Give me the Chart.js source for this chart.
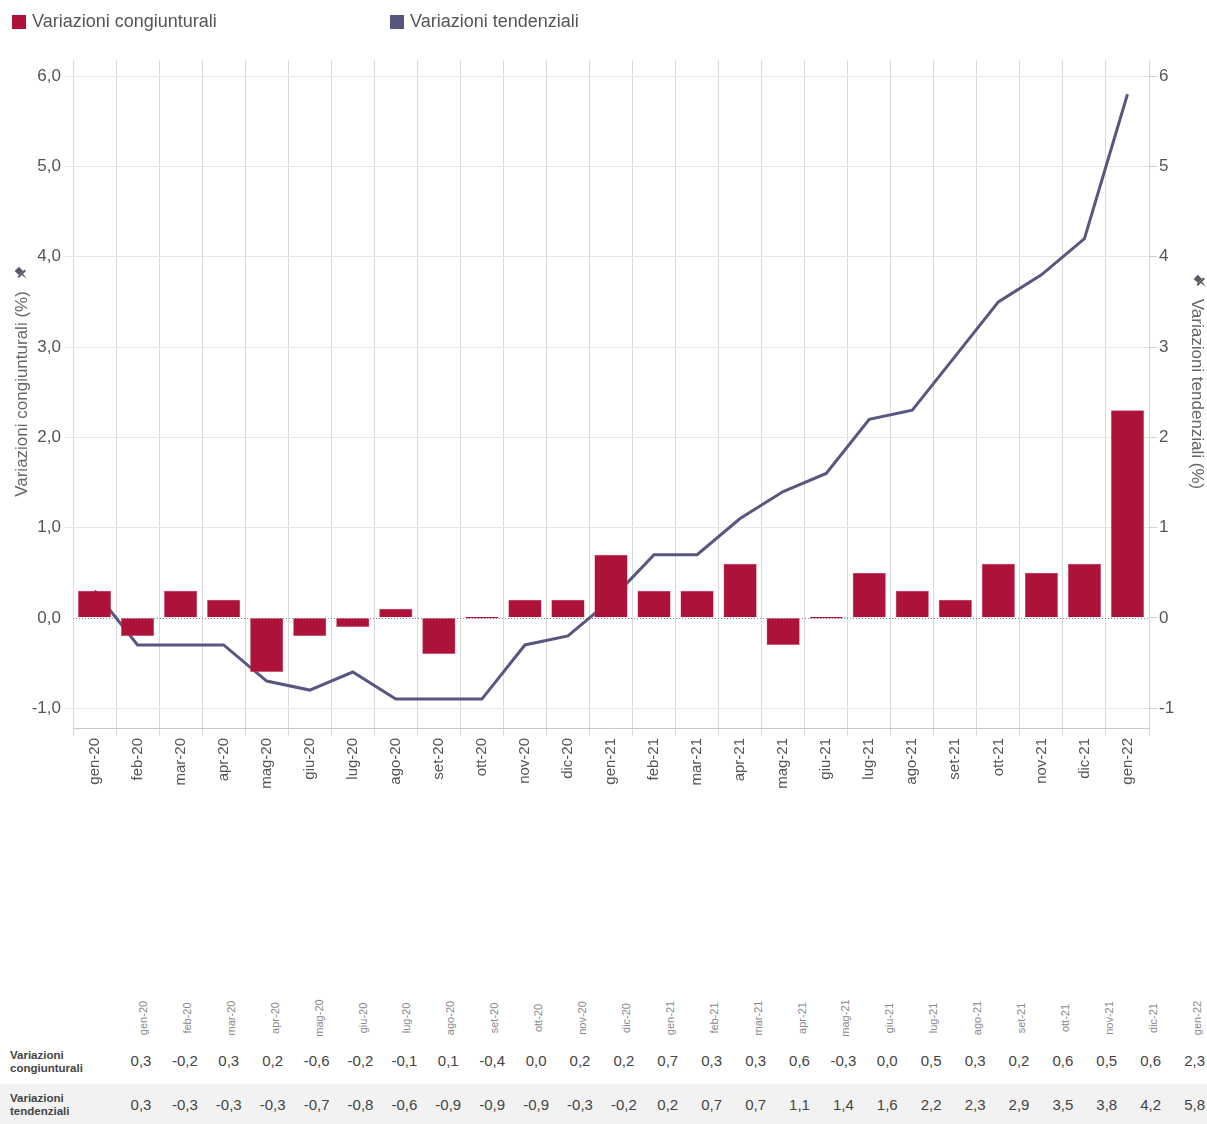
<!DOCTYPE html>
<html lang="it">
<head>
    <meta charset="UTF-8">
    <title>Variazioni congiunturali e tendenziali</title>
    <script src="https://cdn.jsdelivr.net/npm/chart.js"></script>
    <style>
        body { margin: 0; background: #fff; font-family: "Liberation Sans", Arial, sans-serif; }
        #wrap { position: relative; width: 1207px; height: 1124px; overflow: hidden; }
        #chart { position: absolute; left: 0; top: 0; }
        .legend { position: absolute; top: 11px; font-size: 18px; color: #555; display: flex; align-items: center; }
        .legend span.box { display: inline-block; width: 14px; height: 14px; margin-right: 6px; }
        #table { position: absolute; left: 0; top: 995px; width: 1207px; }
        .row { position: relative; height: 44px; }
        .head { height: 48px; }
        .cell { position: absolute; width: 44px; text-align: center; }
        .hlab { position: absolute; font-size: 11px; color: #8a8a8a; white-space: nowrap;
                transform: rotate(-90deg); transform-origin: center center; }
        .val { font-size: 15px; color: #444; }
        .rlab { position: absolute; left: 10px; font-size: 11.5px; font-weight: bold; color: #444; line-height: 13px; }
    </style>
</head>
<body>
<div id="wrap">
    <canvas id="chart" width="1207" height="800"></canvas>
    <div class="legend" style="left:12px"><span class="box" style="background:#ad1238"></span>Variazioni congiunturali</div>
    <div class="legend" style="left:390px"><span class="box" style="background:#55557f"></span>Variazioni tendenziali</div>
    <div id="table"></div>
</div>
<script>
    const months = ['gen-20', 'feb-20', 'mar-20', 'apr-20', 'mag-20', 'giu-20', 'lug-20', 'ago-20', 'set-20', 'ott-20', 'nov-20', 'dic-20',
        'gen-21', 'feb-21', 'mar-21', 'apr-21', 'mag-21', 'giu-21', 'lug-21', 'ago-21', 'set-21', 'ott-21', 'nov-21', 'dic-21', 'gen-22'];
    const congiunturali = [0.3, -0.2, 0.3, 0.2, -0.6, -0.2, -0.1, 0.1, -0.4, 0.0, 0.2, 0.2,
        0.7, 0.3, 0.3, 0.6, -0.3, 0.0, 0.5, 0.3, 0.2, 0.6, 0.5, 0.6, 2.3];
    const tendenziali = [0.3, -0.3, -0.3, -0.3, -0.7, -0.8, -0.6, -0.9, -0.9, -0.9, -0.3, -0.2,
        0.2, 0.7, 0.7, 1.1, 1.4, 1.6, 2.2, 2.3, 2.9, 3.5, 3.8, 4.2, 5.8];
    const yTicks = [-1, 0, 1, 2, 3, 4, 5, 6];
    const rowNames = [['Variazioni', 'congiunturali'], ['Variazioni', 'tendenziali']];

    const fmt = v => v.toFixed(1).replace('.', ',');
    const setTicks = scale => { scale.ticks = yTicks.map(v => ({ value: v })); };

    // dotted zero line + little pin icons next to the axis titles
    const extras = {
        id: 'extras',
        beforeDatasetsDraw(chart) {
            const y = chart.scales.y.getPixelForValue(0);
            const ctx = chart.ctx;
            ctx.save();
            ctx.strokeStyle = '#888';
            ctx.lineWidth = 1;
            ctx.setLineDash([1, 2]);
            ctx.beginPath();
            ctx.moveTo(chart.chartArea.left, Math.round(y) + 0.5);
            ctx.lineTo(chart.chartArea.right, Math.round(y) + 0.5);
            ctx.stroke();
            ctx.restore();
        },
        afterDraw(chart) {
            const ctx = chart.ctx;
            const pin = (x, y) => {
                ctx.save();
                ctx.translate(x, y);
                ctx.rotate(-Math.PI / 4);
                ctx.fillStyle = '#555a66';
                ctx.fillRect(-3, -6, 6, 6);
                ctx.fillRect(-5, 0, 10, 2);
                ctx.beginPath();
                ctx.moveTo(-1, 2); ctx.lineTo(1, 2); ctx.lineTo(0, 8); ctx.closePath();
                ctx.fill();
                ctx.restore();
            };
            pin(21, 273);
            pin(1200, 281);
        }
    };

    new Chart(document.getElementById('chart'), {
        type: 'bar',
        data: {
            labels: months,
            datasets: [{
                label: 'Variazioni congiunturali',
                data: congiunturali,
                backgroundColor: '#ad1238',
                borderColor: '#c85070',
                borderWidth: 0.5,
                barPercentage: 0.77,
                categoryPercentage: 1,
                minBarLength: 1.5,
                yAxisID: 'y',
                order: 1
            }, {
                type: 'line',
                label: 'Variazioni tendenziali',
                data: tendenziali,
                borderColor: '#58577f',
                borderWidth: 3,
                pointRadius: 0,
                tension: 0,
                yAxisID: 'y1',
                order: 2
            }]
        },
        options: {
            responsive: false,
            animation: false,
            devicePixelRatio: 1,
            layout: { padding: { top: 60 } },
            plugins: { legend: { display: false }, tooltip: { enabled: false } },
            scales: {
                x: {
                    offset: true,
                    grid: { color: '#d9d9d9', offset: true, tickLength: 8 },
                    border: { color: '#c8c8c8' },
                    ticks: {
                        color: '#555', font: { size: 15, family: 'Liberation Sans' },
                        minRotation: 90, maxRotation: 90, autoSkip: false, padding: 2
                    },
                    afterFit: s => { s.height = 72; }
                },
                y: {
                    position: 'left',
                    min: -1.22, max: 6.18,
                    ticks: { color: '#555', font: { size: 17, family: 'Liberation Sans' }, callback: v => fmt(v), padding: 4 },
                    grid: { color: c => c.tick && c.tick.value === 0 ? 'rgba(0,0,0,0)' : '#e6e6e6', tickLength: 8 },
                    border: { display: false },
                    title: { display: true, text: 'Variazioni congiunturali (%)', color: '#666', font: { size: 17, family: 'Liberation Sans' }, padding: { top: 12, bottom: 0 } },
                    afterBuildTicks: setTicks,
                    afterFit: s => { s.width = 73; }
                },
                y1: {
                    position: 'right',
                    min: -1.22, max: 6.18,
                    ticks: { color: '#555', font: { size: 17, family: 'Liberation Sans' }, padding: 2 },
                    grid: { drawOnChartArea: false, color: '#d0d0d0', tickLength: 8 },
                    border: { display: false },
                    title: { display: true, text: 'Variazioni tendenziali (%)', color: '#666', font: { size: 17, family: 'Liberation Sans' }, padding: 0 },
                    afterBuildTicks: setTicks,
                    afterFit: s => { s.width = 58; }
                }
            }
        },
        plugins: [extras]
    });

    // data table below the chart
    const table = document.getElementById('table');
    const colX = i => 119 + i * 43.9;
    const head = document.createElement('div');
    head.className = 'row head';
    months.forEach((m, i) => {
        const d = document.createElement('div');
        d.className = 'hlab';
        d.textContent = m;
        d.style.left = (colX(i) + 2) + 'px';
        d.style.top = '17px';
        d.style.width = '44px';
        d.style.textAlign = 'center';
        head.appendChild(d);
    });
    table.appendChild(head);
    [congiunturali, tendenziali].forEach((vals, r) => {
        const row = document.createElement('div');
        row.className = 'row';
        if (r === 1) row.style.background = '#f2f2f2';
        row.style.height = r === 0 ? '41px' : '40px';
        const lab = document.createElement('div');
        lab.className = 'rlab';
        lab.style.top = r === 0 ? '6px' : '8px';
        lab.innerHTML = rowNames[r].join('<br>');
        row.appendChild(lab);
        vals.forEach((v, i) => {
            const c = document.createElement('div');
            c.className = 'cell val';
            c.style.left = colX(i) + 'px';
            c.style.top = r === 0 ? '9px' : '12px';
            c.textContent = fmt(v);
            row.appendChild(c);
        });
        table.appendChild(row);
    });
</script>
</body>
</html>
